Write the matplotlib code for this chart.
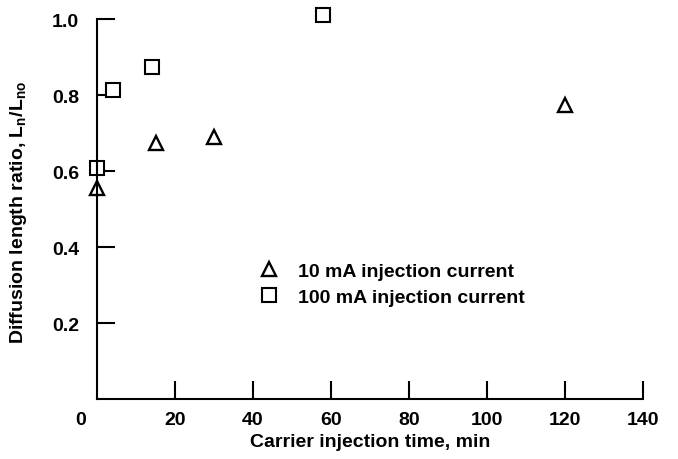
import numpy as np
import matplotlib
matplotlib.use('Agg')
import matplotlib.pyplot as plt

plt.rcParams['font.family'] = ['Liberation Sans', 'DejaVu Sans']
plt.rcParams['font.weight'] = 'bold'
plt.rcParams['axes.labelweight'] = 'bold'
plt.rcParams['mathtext.fontset'] = 'custom'
plt.rcParams['mathtext.rm'] = 'Liberation Sans:bold'
plt.rcParams['mathtext.it'] = 'Liberation Sans:bold'

# data
t_10mA = [0, 15, 30, 120]
ratio_10mA = [0.555, 0.675, 0.69, 0.775]
t_100mA = [0, 4, 14, 58]
ratio_100mA = [0.607, 0.813, 0.873, 1.012]

x_ticks = [20, 40, 60, 80, 100, 120, 140]
y_ticks = [0.2, 0.4, 0.6, 0.8, 1.0]

fs = 14

fig = plt.figure(figsize=(6.78, 4.6), dpi=100)
ax = fig.add_axes([97 / 678, 60 / 460, 546 / 678, 395 / 460])

ax.plot(t_10mA, ratio_10mA, linestyle='none', marker='^', ms=10, mfc='white',
        mec='black', mew=1.7, clip_on=False, label='10 mA injection current')
ax.plot(t_100mA, ratio_100mA, linestyle='none', marker='s', ms=10.5, mfc='white',
        mec='black', mew=1.5, clip_on=False, label='100 mA injection current')

ax.set_xlim(0, 140)
ax.set_ylim(0, 1.04)
ax.spines['top'].set_visible(False)
ax.spines['right'].set_visible(False)
ax.spines['left'].set_bounds(0, 1.0)
for s in ('left', 'bottom'):
    ax.spines[s].set_linewidth(1.5)

ax.set_xticks(x_ticks)
ax.set_yticks(y_ticks)
ax.set_yticklabels([f'{v:.1f}' for v in y_ticks])
ax.tick_params(axis='x', direction='in', length=13, width=1.5, pad=9, labelsize=fs)
ax.tick_params(axis='y', direction='in', length=13, width=1.5, pad=13, labelsize=fs)

ax.annotate('0', xy=(0, 0), xycoords='data', xytext=(-12, -15), textcoords='offset points',
            ha='center', va='center', fontsize=fs)

ax.set_xlabel('Carrier injection time, min', fontsize=fs, labelpad=3)
ax.set_ylabel(r'Diffusion length ratio, $\mathregular{L_n/L_{no}}$', fontsize=fs)
ax.yaxis.set_label_coords(-0.125, 0.475)

ax.legend(loc='upper left', bbox_to_anchor=(0.265, 0.365), frameon=False, fontsize=fs,
          handletextpad=0.5, labelspacing=0.4, borderaxespad=0)

fig.savefig('out.png', dpi=100)
